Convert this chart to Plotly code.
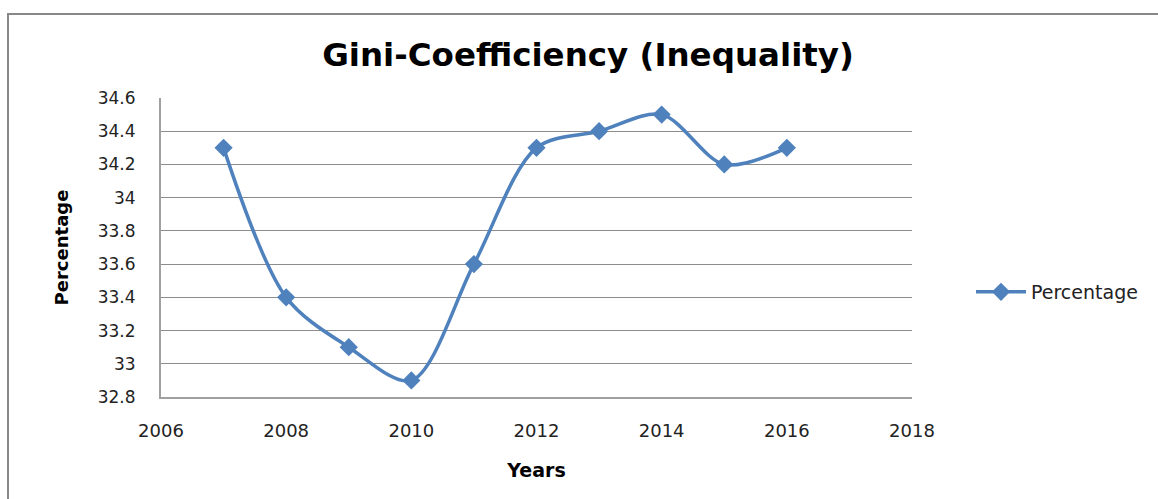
import plotly.graph_objects as go

years = [2007, 2008, 2009, 2010, 2011, 2012, 2013, 2014, 2015, 2016]
percentage = [34.3, 33.4, 33.1, 32.9, 33.6, 34.3, 34.4, 34.5, 34.2, 34.3]
x_ticks = [2006, 2008, 2010, 2012, 2014, 2016, 2018]
y_ticks = [32.8, 33, 33.2, 33.4, 33.6, 33.8, 34, 34.2, 34.4, 34.6]
y_labels = ["32.8", "33", "33.2", "33.4", "33.6", "33.8", "34", "34.2", "34.4", "34.6"]

W, H = 1158, 499
L, R, T, B = 161, 246, 98, 102
pw, ph = W - L - R, H - T - B

def px(x):
    return (x - L) / pw

def py(y):
    return (H - B - y) / ph

FONT = "DejaVu Sans, Open Sans, sans-serif"

fig = go.Figure()
fig.add_trace(go.Scatter(
    x=years, y=percentage, mode="lines+markers", name="Percentage",
    line=dict(color="#4F81BD", width=3.5, shape="spline", smoothing=0.9),
    marker=dict(symbol="diamond", size=14, color="#4F81BD"),
))

fig.update_layout(
    width=W, height=H,
    margin=dict(l=L, r=R, t=T, b=B),
    paper_bgcolor="white", plot_bgcolor="white",
    font=dict(family=FONT, size=16, color="#222"),
    title=dict(text="<b>Gini-Coefficiency (Inequality)</b>", xref="container", x=588 / W,
               xanchor="center", yref="container", y=1 - 55 / H, yanchor="middle",
               font=dict(size=32.5, color="black", family=FONT)),
    showlegend=True,
    legend=dict(x=px(971), y=py(292), xanchor="left", yanchor="middle",
                font=dict(size=19, color="#222"), bgcolor="rgba(0,0,0,0)",
                itemwidth=50),
    xaxis=dict(range=[2006, 2018], tickvals=x_ticks, showgrid=False,
               showline=True, linecolor="#a0a0a0", linewidth=2, ticks="",
               zeroline=False, tickfont=dict(size=18), ticklabelstandoff=16,
               title=dict(text="<b>Years</b>", font=dict(size=19, color="black"), standoff=24)),
    yaxis=dict(range=[32.8, 34.6], tickvals=y_ticks, ticktext=y_labels, showgrid=True,
               gridcolor="#8c8c8c", gridwidth=1, showline=True, linecolor="#a0a0a0",
               linewidth=2, ticks="", zeroline=False, tickfont=dict(size=17),
               ticklabelstandoff=20,
               title=dict(text="<b>Percentage</b>", font=dict(size=18, color="black"), standoff=24)),
    shapes=[dict(type="rect", xref="paper", yref="paper",
                 x0=px(8), x1=px(1300), y0=py(600), y1=py(14),
                 line=dict(color="#888888", width=2), fillcolor="rgba(0,0,0,0)", layer="below")],
)

fig.write_html("out.html", config={"displayModeBar": False})

with open("out.html", "r", encoding="utf-8") as f:
    html = f.read()
html = html.replace("<head>", "<head><style>html,body{margin:0;padding:0;overflow:hidden;}</style>", 1)
with open("out.html", "w", encoding="utf-8") as f:
    f.write(html)
